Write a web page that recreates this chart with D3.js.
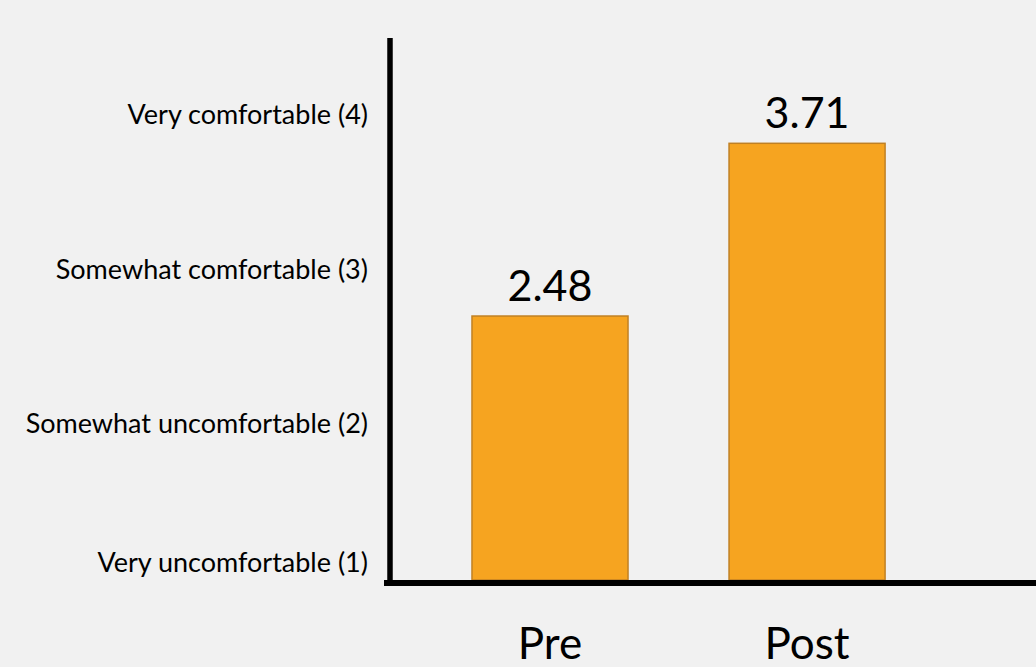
<!DOCTYPE html>
<html>
<head>
<meta charset="utf-8">
<script src="https://cdn.jsdelivr.net/npm/d3@7"></script>
<style>
  html, body { margin: 0; padding: 0; background: #f1f1f1; }
  svg { display: block; }
  text { font-family: Lato, "Open Sans", sans-serif; fill: #000; }
</style>
</head>
<body>
<svg id="chart" width="1036" height="667"></svg>
<script>
// ---- data ----
const categories = ["Pre", "Post"];
const values = [2.48, 3.71];
const tickLabels = ["Very uncomfortable (1)", "Somewhat uncomfortable (2)", "Somewhat comfortable (3)", "Very comfortable (4)"];
// where each tick label sits on the value axis
const tickPositions = [0.732, 1.718, 2.816, 3.921];

// ---- layout ----
const W = 1036, H = 667;
const axisX = 390, axisY = 583;
const plotTop = 38, plotBottom = 580;

const svg = d3.select("#chart");
svg.append("rect").attr("width", W).attr("height", H).attr("fill", "#f1f1f1");

const x = d3.scaleBand()
  .domain(categories)
  .range([axisX, W])
  .paddingInner(0.393)
  .paddingOuter(0.453)
  .align(0.352);

const y = d3.scaleLinear()
  .domain([0.6, 4.46])
  .range([plotBottom, plotTop]);

// bars
svg.selectAll("rect.bar")
  .data(values)
  .join("rect")
  .attr("class", "bar")
  .attr("x", (d, i) => x(categories[i]))
  .attr("width", x.bandwidth())
  .attr("y", d => y(d))
  .attr("height", d => y(0.6) - y(d))
  .attr("fill", "#f6a420")
  .attr("stroke", "#c08024")
  .attr("stroke-width", 1.5);

// value labels
svg.selectAll("text.val")
  .data(values)
  .join("text")
  .attr("class", "val")
  .attr("x", (d, i) => x(categories[i]) + x.bandwidth() / 2)
  .attr("y", d => y(d) - 15)
  .attr("text-anchor", "middle")
  .attr("font-size", 43)
  .text(d => d.toFixed(2));

// y axis (tick labels)
const yAxis = d3.axisLeft(y)
  .tickValues(tickPositions)
  .tickSize(0)
  .tickPadding(0)
  .tickFormat((d, i) => tickLabels[i]);
const gy = svg.append("g")
  .attr("transform", `translate(368,0)`)
  .call(yAxis);
gy.select(".domain").remove();
gy.selectAll("text")
  .attr("font-size", 27)
  .attr("dy", "0.36em")
  .style("font-family", "Lato, 'Open Sans', sans-serif")
  .attr("fill", "#000");

// x axis labels
const xAxis = d3.axisBottom(x).tickSize(0).tickPadding(0);
const gx = svg.append("g")
  .attr("transform", `translate(0,659)`)
  .call(xAxis);
gx.select(".domain").remove();
gx.selectAll("text")
  .attr("y", 0)
  .attr("dy", 0)
  .attr("font-size", 44)
  .style("font-family", "Lato, 'Open Sans', sans-serif")
  .attr("fill", "#000");

// axis lines
svg.append("line")
  .attr("x1", axisX).attr("x2", axisX)
  .attr("y1", plotTop).attr("y2", axisY)
  .attr("stroke", "#000").attr("stroke-width", 5.5);
svg.append("line")
  .attr("x1", 384).attr("x2", W)
  .attr("y1", axisY).attr("y2", axisY)
  .attr("stroke", "#000").attr("stroke-width", 6);
</script>
</body>
</html>
